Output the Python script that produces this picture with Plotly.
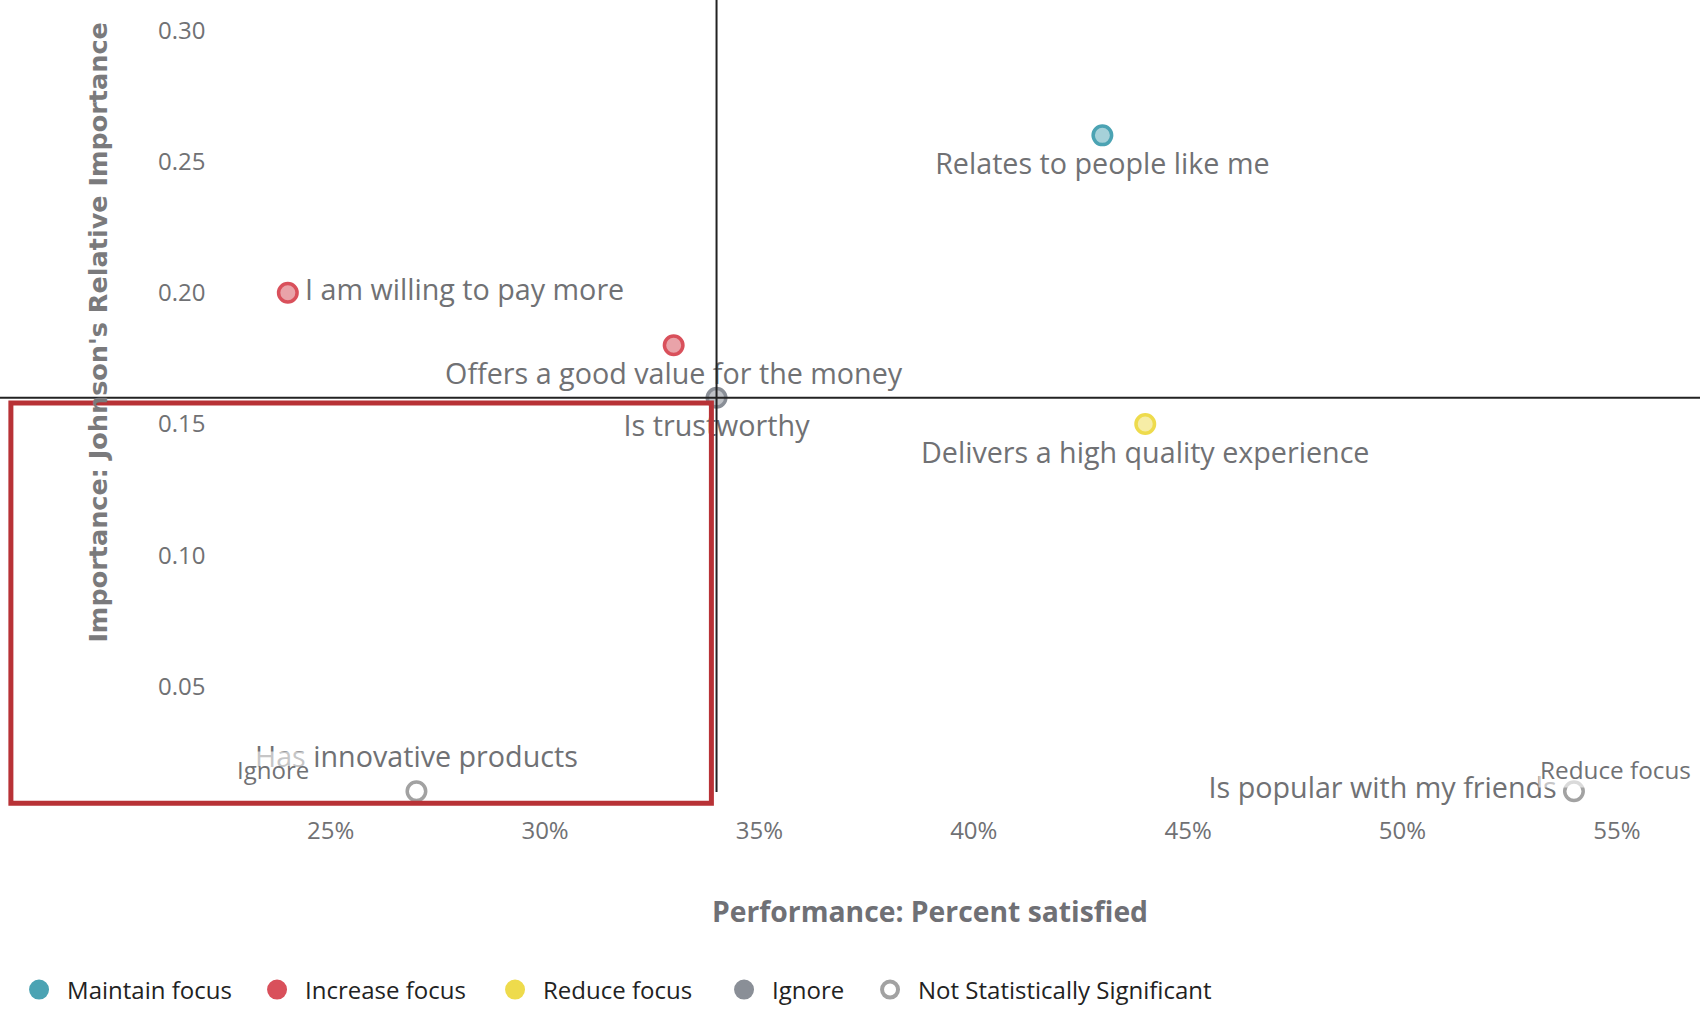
import plotly.graph_objects as go

# ---------------- data ----------------
attributes = [
    "Relates to people like me",
    "I am willing to pay more",
    "Offers a good value for the money",
    "Is trustworthy",
    "Delivers a high quality experience",
    "Has innovative products",
    "Is popular with my friends",
]
performance = [43.0, 24.0, 33.0, 34.0, 44.0, 27.0, 54.0]          # percent satisfied
importance = [0.26, 0.20, 0.18, 0.16, 0.15, 0.01, 0.01]           # Johnson's relative importance
attribute_group = [
    "Maintain focus",
    "Increase focus",
    "Increase focus",
    "Ignore",
    "Reduce focus",
    "Not Statistically Significant",
    "Not Statistically Significant",
]
label_position = ["bottom center", "middle right", "bottom center", "bottom center",
                  "bottom center", "top center", "middle left"]

groups = ["Maintain focus", "Increase focus", "Reduce focus", "Ignore", "Not Statistically Significant"]

x_tick_values = [25, 30, 35, 40, 45, 50, 55]
x_tick_labels = ["25%", "30%", "35%", "40%", "45%", "50%", "55%"]
y_tick_values = [0.05, 0.10, 0.15, 0.20, 0.25, 0.30]

quadrant_x = 34.0
quadrant_y = 0.16
quadrant_labels = ["Ignore", "Reduce focus"]

highlight_x = [17.54, 33.88]
highlight_y = [0.0054, 0.158]

# ---------------- styles ----------------
stroke = {
    "Maintain focus": "#4BA3B3",
    "Increase focus": "#D9505B",
    "Reduce focus": "#EEDB4C",
    "Ignore": "#8A8F97",
    "Not Statistically Significant": "#A2A2A2",
}
fill = {
    "Maintain focus": "#A6D1D9",
    "Increase focus": "#E9A3A9",
    "Reduce focus": "#F6EDA6",
    "Ignore": "#BFC2C7",
    "Not Statistically Significant": "#FFFFFF",
}
legend_fill = {
    "Maintain focus": "#4BA3B3",
    "Increase focus": "#D9505B",
    "Reduce focus": "#EEDB4C",
    "Ignore": "#8A8F97",
    "Not Statistically Significant": "#FFFFFF",
}
legend_widths = [177, 177, 168, 85, 310]

x_range = [17.286, 56.94]
y_range = [0.0097, 0.3116]

LABEL_FONT = "Open Sans, Noto Sans, sans-serif"
TEXT_GRAY = "#707174"


def px(v):
    return (v - x_range[0]) / (x_range[1] - x_range[0])


def py(v):
    return (v - y_range[0]) / (y_range[1] - y_range[0])


fig = go.Figure()

# visible markers
for g in groups:
    idx = [i for i, a in enumerate(attribute_group) if a == g]
    fig.add_trace(go.Scatter(
        x=[performance[i] for i in idx],
        y=[importance[i] for i in idx],
        text=[attributes[i] for i in idx],
        mode="markers",
        name=g,
        showlegend=False,
        cliponaxis=False,
        marker=dict(size=18.5, color=fill[g], line=dict(color=stroke[g], width=3.5)),
        hoverinfo="text",
    ))

# data labels (invisible, slightly larger marker gives the label offset)
fig.add_trace(go.Scatter(
    x=performance,
    y=importance,
    text=attributes,
    textposition=label_position,
    mode="markers+text",
    showlegend=False,
    cliponaxis=False,
    hoverinfo="skip",
    marker=dict(size=26, opacity=0),
    textfont=dict(family=LABEL_FONT, size=28.7, color=TEXT_GRAY),
))

for g, lw in zip(groups, legend_widths):
    fig.add_trace(go.Scatter(
        x=[None], y=[None],
        mode="markers",
        name=g,
        legendwidth=lw,
        marker=dict(size=16, color=legend_fill[g], line=dict(color=stroke[g], width=4)),
    ))

shapes = [
    # vertical quadrant line
    dict(type="line", xref="x", yref="paper", x0=quadrant_x, x1=quadrant_x, y0=0, y1=1,
         line=dict(color="#222222", width=2), layer="above"),
    # horizontal quadrant line
    dict(type="line", xref="paper", yref="paper", x0=0, x1=1, y0=py(quadrant_y), y1=py(quadrant_y),
         line=dict(color="#222222", width=2), layer="above"),
    # highlight box
    dict(type="rect", xref="paper", yref="paper",
         x0=px(highlight_x[0]), x1=px(highlight_x[1]),
         y0=py(highlight_y[0]), y1=py(highlight_y[1]),
         line=dict(color="#B83236", width=5), fillcolor="rgba(0,0,0,0)", layer="above"),
]

annotations = [
    dict(text=quadrant_labels[0], xref="paper", yref="paper", x=0.1606, y=0.0278,
         showarrow=False, xanchor="center", yanchor="middle",
         font=dict(family=LABEL_FONT, size=24, color=TEXT_GRAY),
         bgcolor="rgba(255,255,255,0.6)"),
    dict(text=quadrant_labels[1], xref="paper", yref="paper", x=0.950, y=0.0278,
         showarrow=False, xanchor="center", yanchor="middle",
         font=dict(family=LABEL_FONT, size=24.3, color=TEXT_GRAY),
         bgcolor="rgba(255,255,255,0.6)"),
    dict(text="<b>Performance: Percent satisfied</b>", xref="paper", yref="paper",
         x=0.547, y=-0.150, showarrow=False, xanchor="center", yanchor="middle",
         font=dict(family=LABEL_FONT, size=28.3, color="#6F7075")),
    dict(text="<b>Importance: Johnson's Relative Importance</b>", xref="paper", yref="paper",
         x=0.0574, y=0.5795, showarrow=False, xanchor="center", yanchor="middle",
         textangle=-90,
         font=dict(family="DejaVu Sans, Verdana, sans-serif", size=25.5, color="#7A7A7C")),
]

fig.update_layout(
    width=1700,
    height=1016,
    margin=dict(l=0, r=0, t=0, b=224),
    paper_bgcolor="white",
    plot_bgcolor="white",
    shapes=shapes,
    annotations=annotations,
    showlegend=True,
    legend=dict(
        orientation="h",
        x=0.0065, xanchor="left",
        y=-0.25, yanchor="middle",
        itemwidth=46,
        font=dict(family=LABEL_FONT, size=24, color="#222222"),
        bgcolor="rgba(0,0,0,0)",
    ),
    xaxis=dict(
        range=x_range,
        tickvals=x_tick_values,
        ticktext=x_tick_labels,
        showgrid=False, zeroline=False, showline=False,
        ticks="",
        ticklabelstandoff=22,
        tickfont=dict(family=LABEL_FONT, size=24, color=TEXT_GRAY),
        fixedrange=True,
    ),
    yaxis=dict(
        range=y_range,
        tickvals=y_tick_values,
        tickformat=".2f",
        showgrid=False, zeroline=False, showline=False,
        ticks="",
        ticklabelposition="inside",
        ticklabelstandoff=155,
        tickfont=dict(family=LABEL_FONT, size=24, color=TEXT_GRAY),
        fixedrange=True,
    ),
)

fig.write_html("out.html", config={"displayModeBar": False},
               post_script="document.body.style.margin='0';")
